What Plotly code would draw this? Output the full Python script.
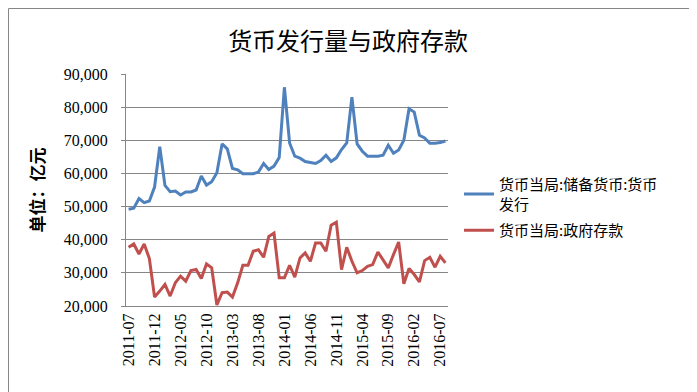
import plotly.graph_objects as go

months = []
y, m = 2011, 7
for _ in range(62):
    months.append(f"{y}-{m:02d}")
    m += 1
    if m > 12:
        m = 1
        y += 1

currency_issue = [
    49200, 49500, 52400, 51200, 51700, 55900, 68100, 56400, 54500, 54700,
    53500, 54400, 54400, 55000, 59200, 56500, 57500, 60200, 68900, 67400,
    61500, 61100, 59900, 59900, 59900, 60400, 63000, 61200, 62200, 64800,
    86000, 69200, 65200, 64600, 63600, 63300, 63000, 63900, 65500, 63600,
    64700, 67200, 69200, 83000, 68900, 66700, 65200, 65200, 65200, 65500,
    68500, 66100, 67100, 70000, 79500, 78500, 71500, 70700, 69100, 69100,
    69300, 69800,
]

gov_deposits = [
    37700, 38700, 35700, 38700, 34300, 22700, 24500, 26500, 23000, 27000,
    29000, 27500, 30700, 31000, 28300, 32700, 31500, 20300, 24000, 24200,
    22700, 27000, 32300, 32300, 36500, 37000, 34700, 41000, 42000, 28500,
    28500, 32300, 28700, 34500, 36000, 33500, 39000, 39000, 36500, 44400,
    45300, 31000, 37700, 33500, 30000, 30700, 32000, 32500, 36300, 34000,
    31500, 35500, 39300, 26700, 31300, 29500, 27300, 33700, 34700, 31700,
    35000, 33000,
]

tick_labels = ["2011-07", "2011-12", "2012-05", "2012-10", "2013-03", "2013-08",
               "2014-01", "2014-06", "2014-11", "2015-04", "2015-09", "2016-02",
               "2016-07"]

name_issue = "货币当局:储备货币:货币<br>发行"
name_dep = "货币当局:政府存款"

fig = go.Figure()
fig.add_trace(go.Scatter(x=months, y=currency_issue, mode="lines", name=name_issue,
                         legendgroup="a",
                         line=dict(color="#4F81BD", width=3)))
fig.add_trace(go.Scatter(x=months, y=gov_deposits, mode="lines", name=name_dep,
                         legendgroup="b",
                         line=dict(color="#C0504D", width=3)))

L, R, T, B = 118, 257, 66, 94
W, H = 697 - L - R, 392 - T - B

fig.update_layout(
    width=697, height=392,
    margin=dict(l=L, r=R, t=T, b=B, autoexpand=False),
    paper_bgcolor="white", plot_bgcolor="white",
    title=dict(text="货币发行量与政府存款", x=0.488, xref="container", xanchor="center",
               y=1 - 34 / 392, yref="container", yanchor="middle",
               font=dict(family="Noto Sans CJK SC", size=24, color="black")),
    showlegend=True,
    legend=dict(x=(451 - L) / W, xanchor="left", y=(T + H - 160) / H, yanchor="top",
                font=dict(family="Noto Sans CJK SC", size=15, color="black"),
                bgcolor="rgba(0,0,0,0)", tracegroupgap=4),
    xaxis=dict(type="category", range=[-0.5, len(months) - 0.5],
               tickmode="array", tickvals=tick_labels, ticktext=tick_labels,
               tickangle=-90, showgrid=False, showline=True, linecolor="#868686",
               linewidth=1, ticks="", zeroline=False,
               tickfont=dict(family="Liberation Serif", size=16, color="black")),
    yaxis=dict(range=[20000, 90000], dtick=10000, tickformat=",",
               showgrid=True, gridcolor="#868686", gridwidth=1,
               showline=True, linecolor="#868686", linewidth=1,
               ticks="outside", ticklen=4, tickcolor="#868686", zeroline=False,
               ticklabelstandoff=10,
               tickfont=dict(family="Liberation Serif", size=16, color="black"),
               title=dict(text="<b>单位：亿元</b>", standoff=14,
                          font=dict(family="Noto Sans CJK SC", size=17, color="black"))),
    shapes=[dict(type="rect", xref="paper", yref="paper",
                 x0=(0.5 - L) / W, x1=(696.5 - L) / W,
                 y0=-(391.5 - (T + H)) / H, y1=1 + (T - 0.5) / H,
                 line=dict(color="#868686", width=1), fillcolor="rgba(0,0,0,0)", layer="below")],
)

fig.write_html("out.html")
